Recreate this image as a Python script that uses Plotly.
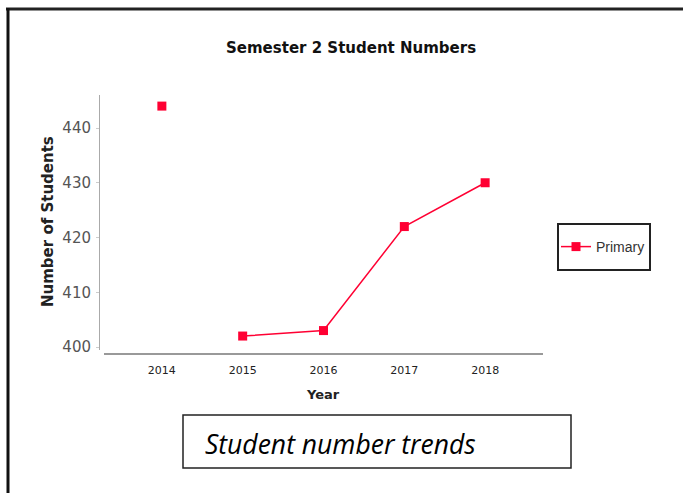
import plotly.graph_objects as go

# Semester 2 enrolment, Primary
years = [2014, 2015, 2016, 2017, 2018]
students = [444, 402, 403, 422, 430]
series_name = "Primary"
y_ticks = [400, 410, 420, 430, 440]

W, H = 683, 493
ML, MR, MT, MB = 99, 140, 95, 139
PW, PH = W - ML - MR, H - MT - MB


def px(x):
    return (x - ML) / PW


def py(y):
    return (H - MB - y) / PH


# 2014 stands alone; the line joins 2015 onwards
xs = [years[0], None] + years[1:]
ys = [students[0], None] + students[1:]

red = "#ff0033"
fig = go.Figure()
fig.add_trace(go.Scatter(
    x=xs, y=ys, name=series_name, mode="lines+markers",
    connectgaps=False,
    line=dict(color=red, width=1.5),
    marker=dict(symbol="square", size=9, color=red),
))

fig.update_layout(
    width=W, height=H,
    margin=dict(l=ML, r=MR, t=MT, b=MB),
    paper_bgcolor="white", plot_bgcolor="white",
    showlegend=True,
    legend=dict(x=px(556), y=py(247), xanchor="left", yanchor="middle",
                bgcolor="rgba(0,0,0,0)", borderwidth=0,
                font=dict(family="Liberation Sans", size=14, color="#333333"),
                itemwidth=30),
    xaxis=dict(
        domain=[5 / PW, 1],
        range=[years[0] - 0.716, years[-1] + 0.716],
        tickmode="array", tickvals=years, ticktext=[str(y) for y in years],
        showgrid=False, zeroline=False,
        showline=True, linecolor="#999999", linewidth=1.5,
        ticks="", ticklabelstandoff=6,
        tickfont=dict(family="DejaVu Sans", size=11, color="#222222"),
        anchor="free", position=0,
    ),
    yaxis=dict(
        domain=[4 / PH, 1],
        range=[400 - 3 / 5.475, 400 + (347 - 95) / 5.475],
        tickmode="array", tickvals=y_ticks,
        showgrid=False, zeroline=False,
        showline=True, linecolor="#aaaaaa", linewidth=1,
        ticks="outside", ticklen=3, tickcolor="#cccccc",
        ticklabelstandoff=2,
        tickfont=dict(family="DejaVu Sans", size=15, color="#555555"),
        anchor="free", position=0,
    ),
)

annotations = [
    dict(text="<b>Semester 2 Student Numbers</b>", x=px(351), y=py(48),
         font=dict(family="DejaVu Sans", size=15, color="#111111")),
    dict(text="<b>Number of Students</b>", x=px(48), y=py(222), textangle=-90,
         font=dict(family="DejaVu Sans", size=15, color="#222222")),
    dict(text="<b>Year</b>", x=px(323), y=py(394),
         font=dict(family="DejaVu Sans", size=13, color="#222222")),
    dict(text="<i>Student number trends</i>", x=px(203), y=py(444), xanchor="left",
         font=dict(family="Open Sans", size=26.5, color="#000000")),
]
for a in annotations:
    a.setdefault("xanchor", "center")
    a.update(xref="paper", yref="paper", yanchor="middle", showarrow=False)
    fig.add_annotation(**a)

shapes = [
    # outer frame (top and left edges)
    dict(type="line", x0=px(6), x1=px(W + 5), y0=py(9), y1=py(9),
         line=dict(color="#222222", width=3)),
    dict(type="line", x0=px(8), x1=px(8), y0=py(8), y1=py(H + 5),
         line=dict(color="#111111", width=3)),
    # legend frame
    dict(type="rect", x0=px(558), x1=px(650), y0=py(224), y1=py(270),
         line=dict(color="#222222", width=2)),
    # caption box
    dict(type="rect", x0=px(183), x1=px(571), y0=py(415), y1=py(468),
         line=dict(color="#222222", width=1.5)),
]
for s in shapes:
    s.update(xref="paper", yref="paper")
    fig.add_shape(**s)

fig.write_html("out.html")
